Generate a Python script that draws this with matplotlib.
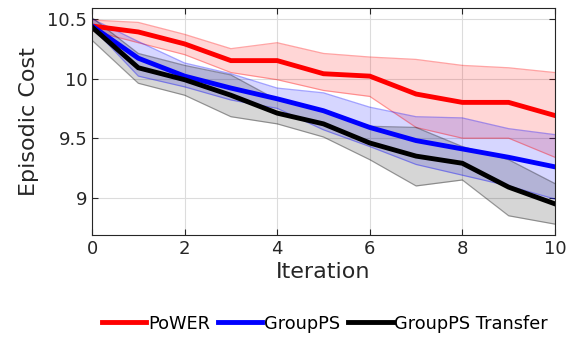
import matplotlib
matplotlib.use("Agg")
import matplotlib.pyplot as plt
import numpy as np

iterations = list(range(11))
power_mean = [10.44, 10.39, 10.29, 10.15, 10.15, 10.04, 10.02, 9.87, 9.80, 9.80, 9.69]
power_upper = [10.49, 10.47, 10.37, 10.25, 10.30, 10.21, 10.18, 10.16, 10.11, 10.09, 10.05]
power_lower = [10.40, 10.30, 10.20, 10.05, 9.99, 9.90, 9.85, 9.59, 9.50, 9.50, 9.34]
groups_mean = [10.44, 10.17, 10.02, 9.92, 9.83, 9.73, 9.59, 9.48, 9.41, 9.34, 9.26]
groups_upper = [10.50, 10.31, 10.13, 10.04, 9.92, 9.88, 9.76, 9.68, 9.67, 9.58, 9.53]
groups_lower = [10.43, 10.02, 9.93, 9.82, 9.75, 9.57, 9.43, 9.28, 9.19, 9.10, 8.99]
transfer_mean = [10.43, 10.09, 9.99, 9.86, 9.71, 9.62, 9.46, 9.35, 9.29, 9.09, 8.95]
transfer_upper = [10.51, 10.21, 10.11, 10.03, 9.82, 9.74, 9.60, 9.59, 9.43, 9.32, 9.12]
transfer_lower = [10.32, 9.96, 9.86, 9.68, 9.62, 9.51, 9.32, 9.10, 9.15, 8.85, 8.78]
labels = ["PoWER", "GroupPS", "GroupPS Transfer"]

fig = plt.figure(figsize=(5.68, 3.37), dpi=100)
ax = fig.add_axes([0.162, 0.303, 0.815, 0.673])

series = [
    (power_mean, power_upper, power_lower, (1, 0, 0)),
    (groups_mean, groups_upper, groups_lower, (0, 0, 1)),
    (transfer_mean, transfer_upper, transfer_lower, (0, 0, 0)),
]
for m, u, l, c in series:
    ax.fill_between(iterations, l, u, color=c, alpha=0.16, linewidth=0)
    ax.plot(iterations, u, color=c, alpha=0.35, lw=0.9)
    ax.plot(iterations, l, color=c, alpha=0.35, lw=0.9)
handles = []
for (m, u, l, c), lab in zip(series, labels):
    h, = ax.plot(iterations, m, color=c, lw=3.5, label=lab, solid_joinstyle='miter')
    handles.append(h)

ax.set_xlim(0, 10)
ax.set_ylim(8.69, 10.59)
ax.set_xticks([0, 2, 4, 6, 8, 10])
ax.set_yticks([9, 9.5, 10, 10.5])
ax.set_yticklabels(["9", "9.5", "10", "10.5"])
ax.grid(True, color="#dcdcdc", lw=0.8)
ax.set_axisbelow(True)
ax.tick_params(direction="in", top=True, right=True, labelsize=13, colors="#262626", length=4)
for s in ax.spines.values():
    s.set_color("#262626")
    s.set_linewidth(0.8)
ax.set_xlabel("Iteration", fontsize=16, color="#262626", labelpad=3)
ax.set_ylabel("Episodic Cost", fontsize=16, color="#262626", labelpad=6)

fig.legend(handles=handles, labels=labels, loc="center", bbox_to_anchor=(0.572, 0.04),
           ncol=3, frameon=False, fontsize=12.8, handlelength=2.5, handletextpad=0.1,
           columnspacing=0.45, borderaxespad=0)

fig.savefig("out.png", dpi=100)
